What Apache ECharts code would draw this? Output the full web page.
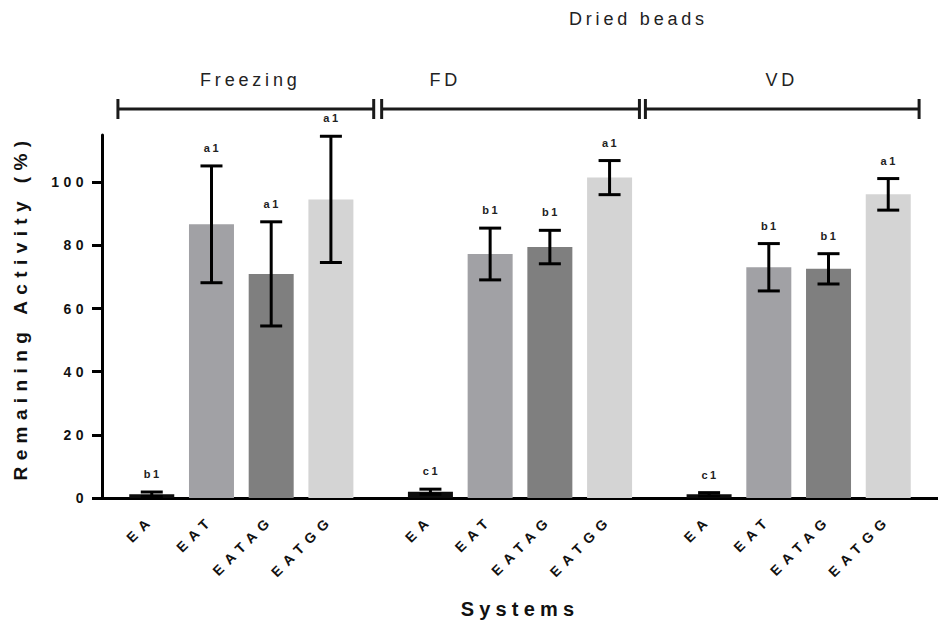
<!DOCTYPE html>
<html><head><meta charset="utf-8">
<script src="https://cdn.jsdelivr.net/npm/echarts@6/dist/echarts.min.js"></script>
<style>
html,body{margin:0;padding:0;background:#fff}
#c{width:938px;height:630px}
text[style*="zzyt"]{letter-spacing:6.4px}
text[style*="zzxn"]{letter-spacing:5.2px}
text[style*="zzyl"]{letter-spacing:4.5px}
text[style*="zzxl"]{letter-spacing:6.5px}
text[style*="zzsig"]{letter-spacing:2.5px}
text[style*="zzgrp"]{letter-spacing:3.8px}
</style>
</head><body><div id="c"></div>
<script>
// ---- data ----
var groups = ['Freezing', 'FD', 'VD'];
var systems = ['EA', 'EAT', 'EATAG', 'EATGG'];
var freezingMean = [1.2, 86.7, 71.0, 94.6];
var freezingSD   = [0.7, 18.5, 16.5, 20.0];
var fdMean = [2.0, 77.3, 79.5, 101.5];
var fdSD   = [0.8, 8.2, 5.3, 5.4];
var vdMean = [1.2, 73.1, 72.6, 96.2];
var vdSD   = [0.5, 7.5, 4.8, 5.0];
var freezingLetters = ['b1', 'a1', 'a1', 'a1'];
var fdLetters = ['c1', 'b1', 'b1', 'a1'];
var vdLetters = ['c1', 'b1', 'b1', 'a1'];
var yTicks = [0, 20, 40, 60, 80, 100];
var superTitle = 'Dried beads';

// ---- styles / layout ----
var sysColors = ['#0d0d0d', '#a1a1a5', '#7f7f7f', '#d4d4d4'];
function ff(tag){ return "'Liberation Sans', Arial, " + tag; }

var means = [freezingMean, fdMean, vdMean];
var sds = [freezingSD, fdSD, vdSD];
var letters = [freezingLetters, fdLetters, vdLetters];

// category axis with spacer slots so groups are separated
var cats = [], barData = [], errData = [], errLetters = [];
function blank(n){ for (var k=0;k<n;k++){ cats.push('_gap' + cats.length); barData.push(null);} }
for (var g=0; g<groups.length; g++){
  blank(g===0 ? 2 : 4);
  for (var i=0; i<systems.length; i++){
    var idx = cats.length;
    cats.push(groups[g] + '|' + systems[i]);
    barData.push({value: means[g][i], itemStyle:{color: sysColors[i]}});
    errData.push([idx, means[g][i]-sds[g][i], means[g][i]+sds[g][i]]);
    errLetters.push(letters[g][i]);
    if (i < systems.length-1) blank(2);
  }
}
blank(2);
function isReal(v){ return v.indexOf('|') >= 0; }

var chart = echarts.init(document.getElementById('c'), null, {renderer:'svg'});
chart.setOption({
  animation:false,
  backgroundColor:'#fff',
  grid:{left:102, top:135, width:840, bottom:132, containLabel:false},
  xAxis:{
    type:'category', data:cats,
    name:'Systems', nameLocation:'middle', nameGap:101,
    nameTextStyle:{fontFamily:ff('zzxn'), fontWeight:'bold', fontSize:20, color:'#111'},
    axisLine:{lineStyle:{color:'#000', width:3}},
    axisTick:{alignWithLabel:true, length:9, lineStyle:{color:'#000', width:3},
      interval:function(i,v){ return isReal(v); }},
    axisLabel:{interval:function(i,v){ return isReal(v); }, rotate:45, margin:19,
      formatter:function(v){ return isReal(v) ? v.split('|')[1] : ''; },
      fontFamily:ff('zzxl'), fontWeight:'bold', fontSize:14, color:'#111'},
    splitLine:{show:false}
  },
  yAxis:{
    type:'value', min:0, max:115, interval:20,
    name:'Remaining Activity (%)', nameLocation:'middle', nameGap:72, nameRotate:90,
    nameTextStyle:{fontFamily:ff('zzyt'), fontWeight:'bold', fontSize:19, color:'#111', padding:[0,0,0,18]},
    axisLine:{show:true, lineStyle:{color:'#000', width:3}},
    axisTick:{show:true, length:10, lineStyle:{color:'#000', width:3}, customValues:yTicks},
    axisLabel:{customValues:yTicks, margin:14, fontFamily:ff('zzyl'), fontWeight:'bold', fontSize:14, color:'#111'},
    splitLine:{show:false}
  },
  series:[
    {type:'bar', data:barData, barWidth:45, z:2},
    {type:'custom', data:errData, z:3,
      encode:{x:0, y:[1,2]},
      renderItem:function(params, api){
        var x = api.value(0);
        var lo = api.coord([x, api.value(1)]);
        var hi = api.coord([x, api.value(2)]);
        var hw = 11;
        var st = {stroke:'#000', lineWidth:3};
        return {type:'group', children:[
          {type:'line', shape:{x1:lo[0], y1:lo[1], x2:hi[0], y2:hi[1]}, style:st},
          {type:'line', shape:{x1:lo[0]-hw, y1:lo[1], x2:lo[0]+hw, y2:lo[1]}, style:st},
          {type:'line', shape:{x1:hi[0]-hw, y1:hi[1], x2:hi[0]+hw, y2:hi[1]}, style:st},
          {type:'text', style:{text:errLetters[params.dataIndex], x:hi[0]+1, y:hi[1]-18,
            align:'center', verticalAlign:'middle', fill:'#222',
            font:"bold 11px 'Liberation Sans', Arial, zzsig"}}
        ]};
      }
    }
  ]
});

// annotation brackets (positions in slot units along the category axis)
var bracketSpans = [[0.8, 13.65], [14.05, 27.0], [27.3, 41.05]];
var labelPos = [7.45, 17.25, 34.15];
var superPos = 26.95;
var p0 = chart.convertToPixel({xAxisIndex:0}, 0);
var p1 = chart.convertToPixel({xAxisIndex:0}, 1);
var sw = p1 - p0, left0 = p0 - sw/2;
function ux(u){ return left0 + u*sw; }
var gfx = [];
var bY = 109, tickH = 10;
for (var b=0; b<bracketSpans.length; b++){
  var xa = ux(bracketSpans[b][0]), xb = ux(bracketSpans[b][1]);
  var st = {stroke:'#1a1a1a', lineWidth:3};
  gfx.push({type:'line', shape:{x1:xa, y1:bY, x2:xb, y2:bY}, style:st});
  gfx.push({type:'line', shape:{x1:xa, y1:bY-tickH, x2:xa, y2:bY+tickH}, style:st});
  gfx.push({type:'line', shape:{x1:xb, y1:bY-tickH, x2:xb, y2:bY+tickH}, style:st});
  gfx.push({type:'text', x:ux(labelPos[b]), y:80, style:{text:groups[b], align:'center', verticalAlign:'middle',
    fill:'#222', font:"18px 'Liberation Sans', Arial, zzgrp"}});
}
gfx.push({type:'text', x:ux(superPos), y:19, style:{text:superTitle, align:'center', verticalAlign:'middle',
  fill:'#222', font:"18px 'Liberation Sans', Arial, zzgrp"}});
chart.setOption({graphic:gfx});
</script>
</body></html>
